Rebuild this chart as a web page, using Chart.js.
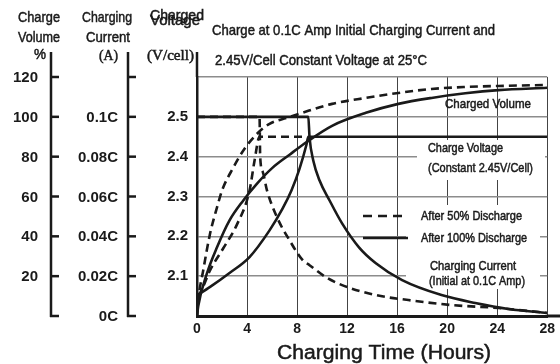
<!DOCTYPE html>
<html>
<head>
<meta charset="utf-8">
<script src="https://cdn.jsdelivr.net/npm/chart.js@4.4.0/dist/chart.umd.min.js"></script>
<style>
  html, body { margin: 0; padding: 0; background: #fff; }
  #wrap { width: 560px; height: 364px; }
</style>
</head>
<body>
<div id="wrap"><canvas id="chart" width="560" height="364"></canvas></div>
<script>
// axis ticks
const hourTicks = [0, 4, 8, 12, 16, 20, 24, 28];
const voltTicks = [2.0, 2.1, 2.2, 2.3, 2.4, 2.5, 2.6];
const voltLabels = ['', '2.1', '2.2', '2.3', '2.4', '2.5', ''];
const volumeTicks = [0, 20, 40, 60, 80, 100, 120];
const volumeLabels = ['', '20', '40', '60', '80', '100', '120'];
const currentTicks = [0, 0.02, 0.04, 0.06, 0.08, 0.1, 0.12];
const currentLabels = ['0C', '0.02C', '0.04C', '0.06C', '0.08C', '0.1C', ''];

// charged volume (%)
const vol50Hours = [0, 0.1, 0.5, 1.05, 1.6, 2.0, 2.9, 3.8, 4.8, 5.8, 7.2, 8.4, 10.8, 13.5, 16.1, 18.75, 21.45, 24.1, 28];
const vol50 = [0, 8, 23, 41.5, 54.5, 63, 74.5, 84, 91.5, 96.5, 99.5, 102, 106.5, 109.5, 112, 114, 115, 115.5, 116];
const vol100Hours = [0, 0.1, 0.8, 1.6, 2.6, 3.7, 4.8, 6.05, 7.4, 8.8, 10.8, 13.5, 16.1, 18.75, 21.45, 24.1, 28];
const vol100 = [0, 5, 21.5, 34.5, 48, 58, 66.5, 74.5, 81, 87.5, 95.5, 102, 106.5, 109.5, 111.8, 113.4, 114.6];

// charge voltage (V/cell)
const volt50Hours = [0, 0.25, 1.05, 2.1, 3.2, 4.2, 4.6, 5.0, 8.8];
const volt50 = [2.05, 2.058, 2.115, 2.17, 2.23, 2.315, 2.39, 2.45, 2.45];
const volt100Hours = [0, 1.05, 2.6, 4.2, 5.8, 6.85, 7.55, 8.2, 8.75, 8.9, 28];
const volt100 = [2.052, 2.073, 2.108, 2.148, 2.215, 2.27, 2.315, 2.37, 2.43, 2.45, 2.45];

// charging current (C)
const cur50Hours = [0, 5.0, 5.05, 5.25, 5.6, 6.4, 7.4, 8.45, 9.0, 10.3, 11.6, 14.3, 16.9, 20.35, 24.1, 28];
const cur50 = [0.1, 0.1, 0.08, 0.0725, 0.063, 0.0495, 0.038, 0.028, 0.0255, 0.0195, 0.0155, 0.0105, 0.008, 0.0055, 0.004, 0.0015];
const cur100Hours = [0, 8.9, 9.0, 9.3, 9.8, 10.6, 11.6, 12.95, 14.3, 16.4, 19.55, 22.25, 24.9, 28];
const cur100 = [0.1, 0.1, 0.0895, 0.078, 0.068, 0.058, 0.0465, 0.0345, 0.0265, 0.018, 0.0105, 0.0065, 0.0035, 0.0015];

const SANS = '"Liberation Sans", Arial, sans-serif';
const SERIF = '"Liberation Serif", "Times New Roman", serif';
const INK = '#1a1a1a';

function pts(xs, ys) {
  return xs.map((x, i) => ({ x: x, y: ys[i] }));
}

function series(xs, ys, axis, dashed) {
  return {
    data: pts(xs, ys),
    yAxisID: axis,
    borderColor: INK,
    borderWidth: 2.6,
    borderDash: dashed ? [8, 5] : [],
    pointRadius: 0,
    cubicInterpolationMode: 'monotone',
    fill: false
  };
}

// text squeezed to a width (the original uses a narrow face), slightly heavier
function fitText(ctx, text, x, y, w, font, align) {
  ctx.save();
  ctx.font = font;
  ctx.textBaseline = 'middle';
  ctx.textAlign = 'left';
  const m = ctx.measureText(text).width;
  let x0 = x;
  if (align === 'right') x0 = x - w;
  if (align === 'center') x0 = x - w / 2;
  ctx.translate(x0, y);
  ctx.scale(w / m, 1);
  ctx.fillStyle = INK;
  ctx.strokeStyle = INK;
  ctx.lineWidth = 0.5;
  ctx.setLineDash([]);
  ctx.fillText(text, 0, 0);
  ctx.strokeText(text, 0, 0);
  ctx.restore();
}

const decor = {
  id: 'decor',
  beforeDatasetsDraw(chart) {
    const ctx = chart.ctx;
    ctx.save();
    ctx.fillStyle = '#fff';
    ctx.fillRect(417, 140, 128, 40);   // charge voltage note
    ctx.fillRect(406, 205, 134, 84);   // legend
    ctx.restore();
  },
  afterDraw(chart) {
    const ctx = chart.ctx;
    const yp = chart.scales.yp, yc = chart.scales.yc;
    const area = chart.chartArea;
    ctx.save();
    ctx.strokeStyle = INK;
    ctx.fillStyle = INK;
    ctx.lineWidth = 2.5;

    // extra left axes
    const sideAxes = [
      { scale: yp, x: 51, ticks: volumeTicks, labels: volumeLabels, lx: 38 },
      { scale: yc, x: 128, ticks: currentTicks, labels: currentLabels, lx: 118 }
    ];
    ctx.font = 'bold 15px ' + SANS;
    ctx.textAlign = 'right';
    ctx.textBaseline = 'middle';
    sideAxes.forEach(a => {
      ctx.beginPath();
      ctx.moveTo(a.x, 52);
      ctx.lineTo(a.x, area.bottom + 1);
      ctx.stroke();
      a.ticks.forEach((v, i) => {
        const y = a.scale.getPixelForValue(v);
        ctx.beginPath();
        ctx.moveTo(a.x - 1, y);
        ctx.lineTo(a.x + 8, y);
        ctx.stroke();
        if (a.labels[i]) ctx.fillText(a.labels[i], a.lx, y + 1);
      });
    });
    // voltage axis runs up past the plot
    ctx.beginPath();
    ctx.moveTo(area.left, 52);
    ctx.lineTo(area.left, area.top);
    ctx.stroke();
    // base line runs on to the edge
    ctx.lineWidth = 3;
    ctx.beginPath();
    ctx.moveTo(area.right, area.bottom);
    ctx.lineTo(560, area.bottom);
    ctx.stroke();

    // axis titles
    fitText(ctx, 'Charge', 18, 18, 42, '15px ' + SANS);
    fitText(ctx, 'Volume', 18, 38, 42, '15px ' + SANS);
    fitText(ctx, '%', 34, 55, 12, '14px ' + SANS);
    fitText(ctx, 'Charging', 82, 18, 50, '15px ' + SANS);
    fitText(ctx, 'Current', 86, 38, 44, '15px ' + SANS);
    fitText(ctx, '(A)', 99, 56, 19, '15px ' + SERIF);
    fitText(ctx, 'Charged', 150, 16, 54, '15px ' + SANS);
    fitText(ctx, 'Voltage', 150, 21, 50, '15px ' + SANS);
    fitText(ctx, '(V/cell)', 147, 56, 47, '15px ' + SERIF);

    // chart title
    fitText(ctx, 'Charge at 0.1C Amp Initial Charging Current and', 212, 31, 283, '15px ' + SANS);
    fitText(ctx, '2.45V/Cell Constant Voltage at 25°C', 215, 61, 212, '15px ' + SANS);

    // x title
    fitText(ctx, 'Charging Time (Hours)', 277, 353, 214, '20px ' + SANS);

    // notes in the plot
    fitText(ctx, 'Charged Volume', 445, 104, 86, '13px ' + SANS);
    fitText(ctx, 'Charge Voltage', 428, 148, 75, '13px ' + SANS);
    fitText(ctx, '(Constant 2.45V/Cell)', 428, 168, 105, '13px ' + SANS);

    // legend
    ctx.lineWidth = 2.6;
    ctx.setLineDash([9, 6]);
    ctx.beginPath();
    ctx.moveTo(363, 216); ctx.lineTo(406, 216);
    ctx.stroke();
    ctx.setLineDash([]);
    ctx.beginPath();
    ctx.moveTo(363, 238); ctx.lineTo(408, 238);
    ctx.stroke();
    fitText(ctx, 'After 50% Discharge', 421, 216, 101, '13px ' + SANS);
    fitText(ctx, 'After 100% Discharge', 421, 238, 106, '13px ' + SANS);
    fitText(ctx, 'Charging Current', 430, 266, 86, '13px ' + SANS);
    fitText(ctx, '(Initial at 0.1C Amp)', 429, 281, 96, '13px ' + SANS);
    ctx.restore();
  }
};

new Chart(document.getElementById('chart'), {
  type: 'line',
  data: {
    datasets: [
      series(vol50Hours, vol50, 'yp', true),
      series(vol100Hours, vol100, 'yp', false),
      series(volt50Hours, volt50, 'y', true),
      series(volt100Hours, volt100, 'y', false),
      series(cur50Hours, cur50, 'yc', true),
      series(cur100Hours, cur100, 'yc', false)
    ]
  },
  options: {
    responsive: false,
    animation: false,
    devicePixelRatio: 1,
    layout: { padding: { left: 0, right: 10, top: 77, bottom: 0 } },
    plugins: {
      legend: { display: false },
      tooltip: { enabled: false }
    },
    scales: {
      x: {
        type: 'linear',
        min: 0,
        max: 28,
        afterBuildTicks: s => { s.ticks = hourTicks.map(v => ({ value: v })); },
        afterFit: s => { s.height = 48; },
        ticks: {
          color: INK,
          font: { family: SANS, size: 14, weight: 'bold' },
          padding: 5,
          maxRotation: 0,
          autoSkip: false
        },
        grid: { color: '#444', lineWidth: 1, drawTicks: false },
        border: { color: INK, width: 3 }
      },
      y: {
        position: 'left',
        min: 2.0,
        max: 2.6,
        afterBuildTicks: s => { s.ticks = voltTicks.map(v => ({ value: v })); },
        afterFit: s => { s.width = 197; },
        ticks: {
          color: INK,
          font: { family: SANS, size: 15, weight: 'bold' },
          padding: 9,
          callback: (v, i) => voltLabels[i]
        },
        grid: { color: '#8c8c8c', lineWidth: 1.5, drawTicks: false },
        border: { color: INK, width: 2.5 }
      },
      yp: { display: false, min: 0, max: 120 },
      yc: { display: false, min: 0, max: 0.12 }
    }
  },
  plugins: [decor]
});
</script>
</body>
</html>
